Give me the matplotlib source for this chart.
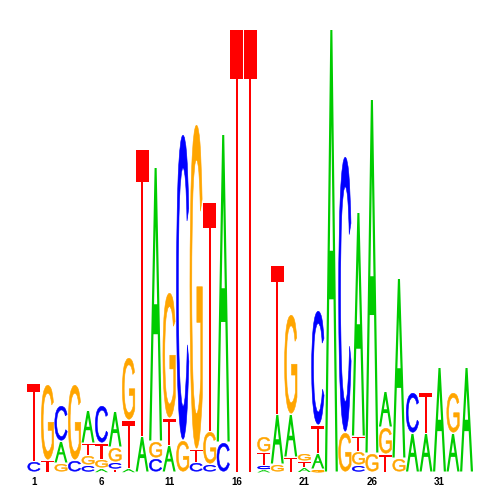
import matplotlib
matplotlib.use("Agg")
import matplotlib.pyplot as plt
from matplotlib.patches import PathPatch
from matplotlib.path import Path
from matplotlib.textpath import TextPath
from matplotlib.font_manager import FontProperties
from matplotlib.transforms import Affine2D

# letter heights per position (2 bits = 443 units)
A = [0,0,22,0,33,4,36,4,36,274,27,0,0,0,308,0,0,3,50,43,5,16,443,0,224,354,36,180,39,39,105,39,105]
C = [11,0,36,12,7,38,7,0,0,14,0,306,10,8,30,0,0,4,0,0,0,115,0,276,7,0,0,0,41,0,0,0,0]
G = [0,76,9,76,10,9,15,63,0,17,126,32,325,33,0,0,0,16,8,100,8,3,0,40,14,19,27,14,0,0,0,41,0]
T = [78,12,0,0,12,16,3,48,287,0,27,0,13,229,0,443,443,13,149,15,6,28,0,0,15,0,18,0,0,41,0,0,0]
POSITIONS = list(range(1, 34))
TICK_POS = [1, 6, 11, 16, 21, 26, 31]
COLORS = {"A": "#00CC00", "C": "#0000FF", "G": "#FFA500", "T": "#FF0000"}

fig = plt.figure(figsize=(5, 5), dpi=100)
ax = fig.add_axes([27.2/500, 27/500, (473.3-27.2)/500, (473-30)/500])
ax.set_xlim(0.5, 33.5)
ax.set_ylim(0, 443)
for s in ax.spines.values():
    s.set_visible(False)
ax.set_yticks([])
ax.set_xticks(TICK_POS)
ax.tick_params(axis="x", length=0, pad=3)
for l in ax.get_xticklabels():
    l.set_fontsize(7)
    l.set_fontweight("bold")
    l.set_fontfamily("Liberation Sans")

reg = FontProperties(family="Liberation Sans")
A_GLYPH = Path([(0, 0), (0.42, 1), (0.58, 1), (1, 0), (0.83, 0), (0.666, 0.39), (0.334, 0.39), (0.17, 0), (0, 0),
                (0.38, 0.5), (0.62, 0.5), (0.5, 0.786), (0.38, 0.5)],
               [Path.MOVETO] + [Path.LINETO]*7 + [Path.CLOSEPOLY, Path.MOVETO, Path.LINETO, Path.LINETO, Path.CLOSEPOLY])
glyphs = {"A": A_GLYPH,
          "C": TextPath((0, 0), "C", size=100, prop=reg),
          "G": TextPath((0, 0), "G", size=100, prop=reg),
          "T": TextPath((0, 0), "T", size=100, prop=reg)}
GAP = 1.5
XPAD = 0.02
EDGE_LW = {"A": 0, "C": 0.4, "G": 0.4, "T": 0}   # points, thickens the round letters

for i, pos in enumerate(POSITIONS):
    stack = sorted([(A[i], "A"), (C[i], "C"), (G[i], "G"), (T[i], "T")])
    y = 0
    for h, k in stack:
        if h <= 0:
            continue
        p = glyphs[k]
        bb = p.get_extents()
        gap = min(GAP, h * 0.2)
        lw = EDGE_LW[k]
        inset_y = min(lw * 100 / 72 / 2, h * 0.2)
        inset_x = (lw * 100 / 72 / 2) / 13.52
        tr = (Affine2D().translate(-bb.x0, -bb.y0)
              .scale((1 - 2*XPAD - 2*inset_x) / bb.width, (h - gap - 2*inset_y) / bb.height)
              .translate(pos - 0.5 + XPAD + inset_x, y + gap + inset_y))
        ax.add_patch(PathPatch(p, transform=tr + ax.transData, fc=COLORS[k],
                               ec=COLORS[k] if lw else "none", lw=lw))
        y += h
fig.savefig("out.png", dpi=100)
